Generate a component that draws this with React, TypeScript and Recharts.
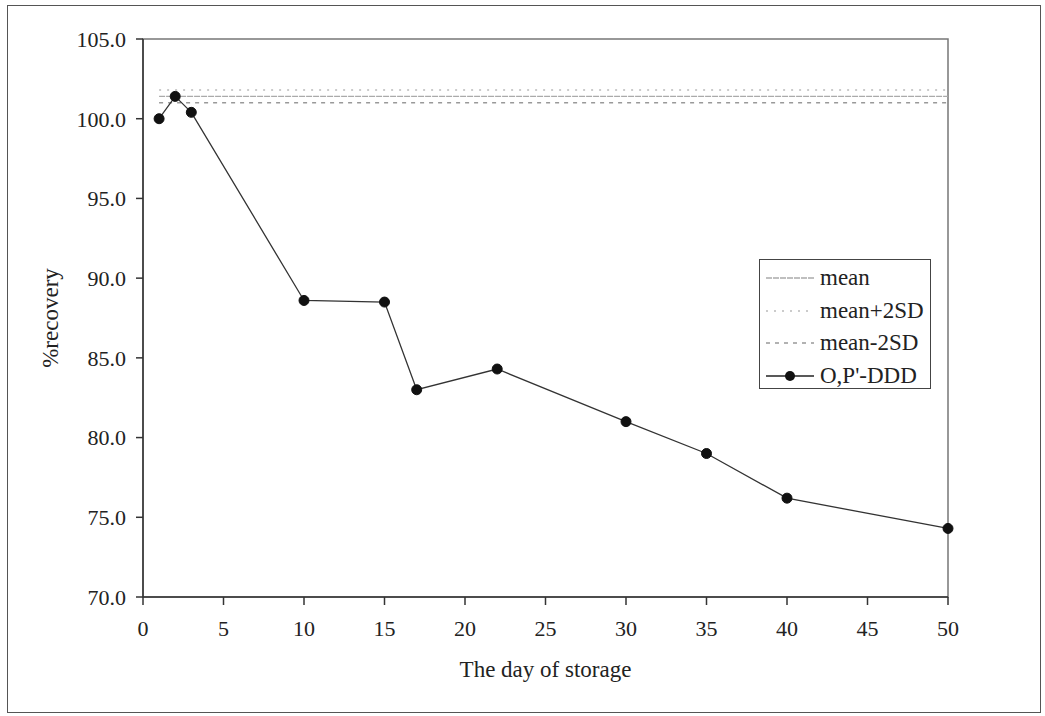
import React from "react";
import { LineChart, Line, XAxis, YAxis, ReferenceArea } from "recharts";

const days = [1, 2, 3, 10, 15, 17, 22, 30, 35, 40, 50];
const recovery = [100.0, 101.4, 100.4, 88.6, 88.5, 83.0, 84.3, 81.0, 79.0, 76.2, 74.3];
const meanValue = 101.4;
const meanPlus2SD = 101.8;
const meanMinus2SD = 101.0;
const xTicks = [0, 5, 10, 15, 20, 25, 30, 35, 40, 45, 50];
const yTicks = [70, 75, 80, 85, 90, 95, 100, 105];

const data = days.map((d, i) => ({
  day: d,
  value: recovery[i],
  mean: meanValue,
  plus: meanPlus2SD,
  minus: meanMinus2SD,
}));

const FONT = "'Liberation Serif', 'Times New Roman', serif";

const legendItems = [
  { label: "mean", dash: "6 1", color: "#aaa", dot: false },
  { label: "mean+2SD", dash: "2 6", color: "#bbb", dot: false },
  { label: "mean-2SD", dash: "4 5", color: "#999", dot: false },
  { label: "O,P'-DDD", dash: undefined, color: "#222", dot: true },
];

function LegendBox() {
  return (
    <div
      style={{
        position: "absolute",
        left: 759,
        top: 259,
        width: 172,
        height: 130,
        border: "1.5px solid #444",
        background: "#fff",
        fontFamily: FONT,
        fontSize: 23,
        color: "#222",
        boxSizing: "border-box",
        paddingTop: 2,
      }}
    >
      {legendItems.map((it) => (
        <div key={it.label} style={{ display: "flex", alignItems: "center", height: 32.5 }}>
          <svg width={56} height={14} style={{ marginLeft: 4, flex: "none" }}>
            <line
              x1={2}
              x2={50}
              y1={7}
              y2={7}
              stroke={it.color}
              strokeWidth={1.3}
              strokeDasharray={it.dash}
            />
            {it.dot && <circle cx={26} cy={7} r={5} fill="#111" />}
          </svg>
          <span style={{ whiteSpace: "nowrap" }}>{it.label}</span>
        </div>
      ))}
    </div>
  );
}

export default function App() {
  return (
    <div
      style={{
        position: "absolute",
        left: 0,
        top: 0,
        width: 1045,
        height: 716,
        background: "#fff",
      }}
    >
      <div
        style={{
          position: "absolute",
          left: 7,
          top: 5,
          width: 1034,
          height: 708,
          border: "1.5px solid #555",
          boxSizing: "border-box",
        }}
      />
      <LineChart
        width={1045}
        height={716}
        data={data}
        margin={{ top: 39, right: 97, left: 0, bottom: 0 }}
      >
        <ReferenceArea
          x1={0}
          x2={50}
          y1={70}
          y2={105}
          fill="none"
          stroke="#777"
          strokeWidth={1.5}
          ifOverflow="visible"
        />
        <XAxis
          dataKey="day"
          type="number"
          domain={[0, 50]}
          ticks={xTicks}
          height={119}
          tickSize={8}
          tickMargin={15}
          stroke="#333"
          strokeWidth={1.5}
          tick={{ fill: "#222", fontFamily: FONT, fontSize: 22 }}
          label={{
            value: "The day of storage",
            position: "insideTop",
            offset: 64,
            fill: "#222",
            fontFamily: FONT,
            fontSize: 23,
          }}
        />
        <YAxis
          type="number"
          domain={[70, 105]}
          ticks={yTicks}
          width={143}
          tickSize={7}
          tickMargin={10}
          stroke="#333"
          strokeWidth={1.5}
          tickFormatter={(v: number) => v.toFixed(1)}
          tick={{ fill: "#222", fontFamily: FONT, fontSize: 22 }}
          label={{
            value: "%recovery",
            angle: -90,
            position: "insideLeft",
            offset: 50,
            fill: "#222",
            fontFamily: FONT,
            fontSize: 23,
            style: { textAnchor: "middle" },
          }}
        />
        <Line
          dataKey="plus"
          stroke="#bbb"
          strokeWidth={1.3}
          strokeDasharray="2 6"
          dot={false}
          isAnimationActive={false}
        />
        <Line
          dataKey="mean"
          stroke="#aaa"
          strokeWidth={1.3}
          strokeDasharray="6 1"
          dot={false}
          isAnimationActive={false}
        />
        <Line
          dataKey="minus"
          stroke="#999"
          strokeWidth={1.3}
          strokeDasharray="4 5"
          dot={false}
          isAnimationActive={false}
        />
        <Line
          dataKey="value"
          stroke="#333"
          strokeWidth={1.3}
          dot={{ r: 5, fill: "#111", stroke: "#111", strokeWidth: 1 }}
          isAnimationActive={false}
        />
      </LineChart>
      <LegendBox />
    </div>
  );
}
